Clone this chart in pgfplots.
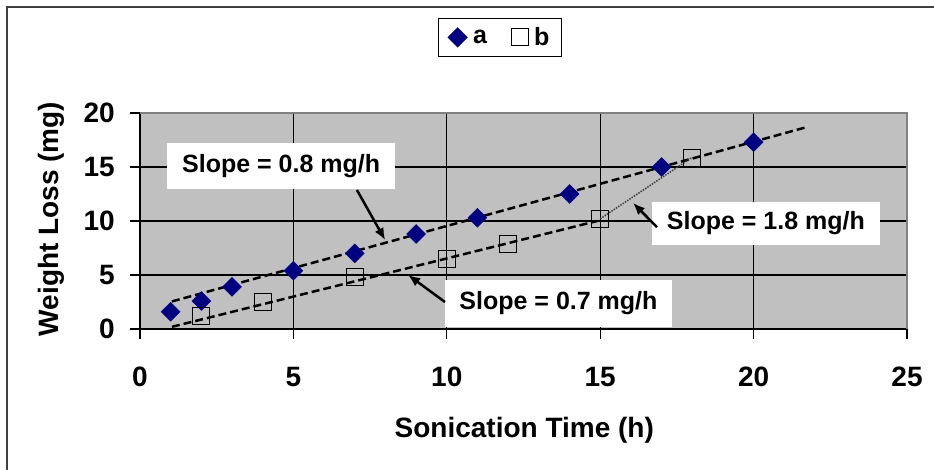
\documentclass[border=0pt]{standalone}
\usepackage{fontspec}
\setmainfont{Liberation Sans}
\usepackage{pgfplots}
\pgfplotsset{compat=1.18}
\usetikzlibrary{arrows.meta}
\definecolor{plotgrey}{HTML}{C0C0C0}
\definecolor{navymark}{HTML}{000080}
\newcommand{\fs}[1]{\fontsize{#1}{#1}\selectfont\bfseries}

\begin{document}
\begin{tikzpicture}
\path[use as bounding box] (0pt,0pt) rectangle (934pt,470pt);
\draw[line width=1.5pt, black!75] (7pt,0pt) -- (7pt,463pt) -- (934pt,463pt);
\begin{axis}[
    at={(140pt,141pt)}, anchor=south west,
    scale only axis, width=767pt, height=216pt,
    xmin=0, xmax=25, ymin=0, ymax=20,
    xtick={0,5,...,25}, ytick={0,5,...,20},
    axis lines=left, axis line style={-, line width=1.5pt, black},
    axis background/.style={fill=plotgrey},
    grid=major, major grid style={black, line width=1.2pt},
    tick align=outside, major tick length=10pt,
    tick style={black, line width=1.2pt},
    /pgf/number format/assume math mode=true,
    tick label style={font=\fs{28}},
    xticklabel style={anchor=north, inner sep=0pt, yshift=-28pt},
    yticklabel style={anchor=east, inner sep=0pt, xshift=-15pt},
    label style={font=\fs{28}},
    xlabel={Sonication Time (h)},
    ylabel={Weight Loss (mg)},
    xlabel style={at={(axis description cs:0.501,-0.468)}, anchor=center},
    ylabel style={at={(axis description cs:-0.116,0.509)}, anchor=center},
    clip=false,
    legend columns=2,
    legend style={at={(axis description cs:0.469,1.35)}, anchor=center,
        draw=black, line width=1pt, fill=white, font=\fs{25},
        inner xsep=10pt, inner ysep=7pt,
        /tikz/every odd column/.append style={column sep=4pt},
        /tikz/every even column/.append style={column sep=22pt}},
]
\addplot[only marks, mark=square*, mark size=6.7pt,
    mark options={rotate=45, fill=navymark, draw=navymark}]
table {
    x  y
    1  1.6
    2  2.6
    3  3.9
    5  5.4
    7  7.0
    9  8.8
    11 10.3
    14 12.5
    17 15.0
    20 17.3
};
\addlegendentry{a}
\addplot[only marks, mark=square, mark size=8.5pt,
    mark options={draw=black, fill=none, line width=1pt}]
table {
    x  y
    2  1.2
    4  2.5
    7  4.8
    10 6.5
    12 7.9
    15 10.2
    18 15.8
};
\addlegendentry{b}
% trendlines
\addplot[forget plot, black, line width=2.5pt, dash pattern=on 8pt off 4pt]
    coordinates {(1.04,2.55) (21.74,18.7)};
\addplot[forget plot, black, line width=2.5pt, dash pattern=on 8pt off 4pt]
    coordinates {(1.04,0.2) (14.9,10.0)};
\addplot[forget plot, black!75, line width=1.5pt, dash pattern=on 1.5pt off 1.2pt]
    coordinates {(15.0,10.2) (18.0,15.9)};
% annotations
\node[fill=white, inner sep=0pt, minimum width=228pt, minimum height=46pt, font=\fs{25}]
    at (axis cs:4.60,15.09) {Slope = 0.8 mg/h};
\node[fill=white, inner sep=0pt, minimum width=228pt, minimum height=43pt, font=\fs{25}]
    at (axis cs:20.40,9.77) {Slope = 1.8 mg/h};
\node[fill=white, inner sep=0pt, minimum width=227pt, minimum height=47pt, font=\fs{25}]
    at (axis cs:13.64,2.36) {Slope = 0.7 mg/h};
\draw[line width=2.5pt, -{Latex[length=12pt,width=10pt]}] (axis cs:7.07,12.87) -- (axis cs:7.99,8.24);
\draw[line width=2.5pt, -{Latex[length=12pt,width=10pt]}] (axis cs:16.85,9.44) -- (axis cs:16.07,11.67);
\draw[line width=2.5pt, -{Latex[length=12pt,width=10pt]}] (axis cs:9.94,2.5) -- (axis cs:8.74,5.0);
\draw[gray, line width=1.5pt] (axis cs:0,20) -- (axis cs:25,20) -- (axis cs:25,0);
\end{axis}
\end{tikzpicture}
\end{document}
